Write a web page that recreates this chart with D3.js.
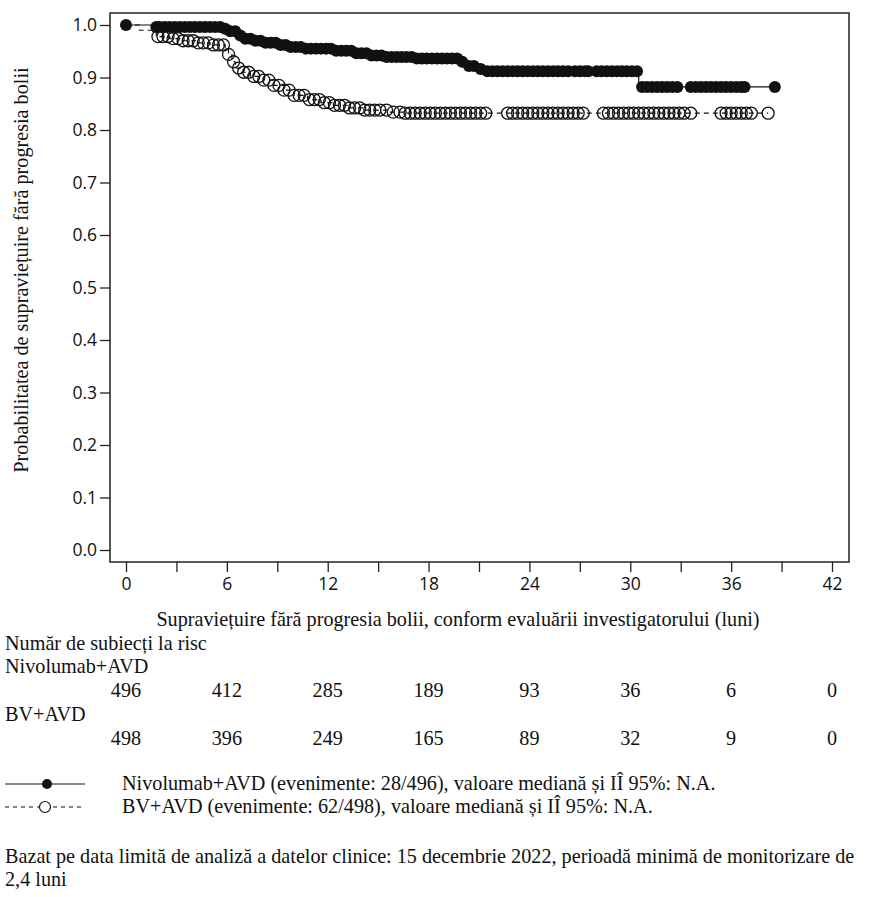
<!DOCTYPE html>
<html>
<head>
<meta charset="utf-8">
<script src="https://cdn.jsdelivr.net/npm/d3@7/dist/d3.min.js"></script>
<style>
  body { margin: 0; background: #fff; }
  svg text { fill: #111; }
  .serif { font-family: "Liberation Serif", "Times New Roman", serif; font-size: 20.2px; }
  .tick text { font-family: "Open Sans", sans-serif; font-size: 17.5px; }
</style>
</head>
<body>
<div id="chart"></div>
<script>
// Kaplan-Meier steps (months, survival)
const nivoStepTimes = [0, 1.8, 5.8, 6.2, 6.6, 7.0, 7.6, 8.2, 9.0, 9.8, 10.6, 12.4, 13.6, 14.6, 15.5, 17.2, 19.8, 20.3, 20.9, 21.3, 30.5];
const nivoStepSurv  = [1.0, 0.996, 0.993, 0.988, 0.980, 0.974, 0.970, 0.966, 0.962, 0.958, 0.955, 0.951, 0.946, 0.942, 0.939, 0.936, 0.930, 0.922, 0.916, 0.912, 0.882];

const bvStepTimes = [0, 0.8, 1.8, 2.6, 3.4, 4.2, 5.0, 5.9, 6.1, 6.3, 6.5, 6.8, 7.4, 8.2, 8.8, 9.4, 10.0, 10.8, 11.6, 12.4, 13.2, 14.2, 15.6, 16.6];
const bvStepSurv  = [1.0, 0.990, 0.978, 0.974, 0.970, 0.966, 0.962, 0.955, 0.944, 0.930, 0.918, 0.910, 0.902, 0.895, 0.885, 0.876, 0.866, 0.858, 0.852, 0.847, 0.842, 0.838, 0.834, 0.832];

// censored subjects (months)
const nivoCensor = [1.8, 2.0, 2.3, 2.6, 2.9, 3.2, 3.5, 3.8, 4.1, 4.4, 4.7, 5.0, 5.3, 5.6, 5.9, 6.2, 6.5, 6.8, 7.1, 7.4, 7.7, 8.0, 8.3, 8.6, 8.9, 9.2, 9.5, 9.8, 10.1, 10.4, 10.7, 11.0, 11.3, 11.6, 11.9, 12.2, 12.5, 12.8, 13.1, 13.4, 13.7, 14.0, 14.3, 14.6, 14.9, 15.2, 15.5, 15.8, 16.1, 16.4, 16.7, 17.0, 17.3, 17.6, 17.9, 18.2, 18.5, 18.8, 19.1, 19.4, 19.7, 20.0, 20.4, 20.7, 21.1, 21.5, 21.8, 22.1, 22.4, 22.7, 23.0, 23.3, 23.6, 23.9, 24.2, 24.5, 24.8, 25.1, 25.4, 25.7, 26.0, 26.3, 26.7, 27.0, 27.3, 27.5, 28.0, 28.3, 28.6, 28.9, 29.2, 29.5, 29.8, 30.1, 30.4, 30.7, 31.0, 31.3, 31.6, 31.9, 32.2, 32.5, 32.8, 33.6, 33.9, 34.2, 34.5, 34.8, 35.1, 35.4, 35.7, 36.0, 36.3, 36.6, 36.8, 38.6];
const bvCensor = [1.9, 2.2, 2.5, 2.8, 3.1, 3.4, 3.7, 4.0, 4.3, 4.6, 4.9, 5.2, 5.5, 5.8, 6.1, 6.4, 6.7, 7.0, 7.3, 7.6, 7.9, 8.2, 8.5, 8.8, 9.1, 9.4, 9.7, 10.0, 10.3, 10.6, 10.9, 11.2, 11.5, 11.8, 12.1, 12.4, 12.7, 13.0, 13.3, 13.6, 13.9, 14.2, 14.5, 14.8, 15.1, 15.5, 15.9, 16.3, 16.6, 16.9, 17.2, 17.5, 17.8, 18.1, 18.4, 18.7, 19.0, 19.3, 19.6, 19.9, 20.2, 20.5, 20.8, 21.1, 21.4, 22.7, 23.0, 23.3, 23.6, 23.9, 24.2, 24.5, 24.8, 25.1, 25.4, 25.7, 26.0, 26.3, 26.6, 26.9, 27.2, 28.4, 28.7, 29.0, 29.3, 29.6, 29.9, 30.2, 30.5, 30.8, 31.1, 31.4, 31.7, 32.0, 32.3, 32.6, 32.9, 33.2, 33.6, 35.4, 35.7, 36.0, 36.3, 36.6, 36.9, 37.2, 38.2];

const xTicks = [0, 3, 6, 9, 12, 15, 18, 21, 24, 27, 30, 33, 36, 39, 42];
const yTicks = [0, 0.1, 0.2, 0.3, 0.4, 0.5, 0.6, 0.7, 0.8, 0.9, 1.0];
const riskTimes = [0, 6, 12, 18, 24, 30, 36, 42];
const nivoAtRisk = [496, 412, 285, 189, 93, 36, 6, 0];
const bvAtRisk = [498, 396, 249, 165, 89, 32, 9, 0];

const width = 871, height = 897;
const svg = d3.select('#chart').append('svg')
  .attr('width', width)
  .attr('height', height);

const x = d3.scaleLinear().domain([0, 42]).range([126, 832]);
const y = d3.scaleLinear().domain([0, 1]).range([550, 25]);
const frame = { left: 110, right: 849, top: 13, bottom: 562 };

// plot frame
svg.append('rect')
  .attr('x', frame.left).attr('y', frame.top)
  .attr('width', frame.right - frame.left).attr('height', frame.bottom - frame.top)
  .attr('fill', 'none').attr('stroke', '#222').attr('stroke-width', 1.5);

const yAxis = svg.append('g')
  .attr('transform', `translate(${frame.left},0)`)
  .call(d3.axisLeft(y).tickValues(yTicks).tickSize(10).tickPadding(3).tickFormat(d3.format('.1f')));
yAxis.select('.domain').remove();

const xAxis = svg.append('g')
  .attr('transform', `translate(0,${frame.bottom})`)
  .call(d3.axisBottom(x).tickValues(xTicks).tickSize(10).tickPadding(6)
    .tickFormat(d => d % 6 === 0 ? d : ''));
xAxis.select('.domain').remove();
svg.selectAll('.tick line').attr('stroke', '#222').attr('stroke-width', 1.3);

// axis titles
svg.append('text').attr('class', 'serif')
  .attr('x', 458).attr('y', 626)
  .attr('text-anchor', 'middle')
  .text('Supraviețuire fără progresia bolii, conform evaluării investigatorului (luni)');

svg.append('text').attr('class', 'serif')
  .attr('transform', 'translate(28,270) rotate(-90)')
  .attr('text-anchor', 'middle')
  .text('Probabilitatea de supraviețuire fără progresia bolii');

function survAt(times, surv, t) {
  const i = d3.bisectRight(times, t) - 1;
  return surv[Math.max(0, i)];
}

function curvePoints(times, surv, tEnd) {
  const pts = times.map((t, i) => [t, surv[i]]);
  pts.push([tEnd, surv[surv.length - 1]]);
  return pts;
}

const line = d3.line()
  .x(d => x(d[0]))
  .y(d => y(d[1]))
  .curve(d3.curveStepAfter);

// BV+AVD (dashed, open circles)
svg.append('path')
  .datum(curvePoints(bvStepTimes, bvStepSurv, d3.max(bvCensor)))
  .attr('d', line)
  .attr('fill', 'none')
  .attr('stroke', '#111')
  .attr('stroke-width', 1.2)
  .attr('stroke-dasharray', '5,4');

svg.append('g').selectAll('circle')
  .data(bvCensor)
  .enter().append('circle')
  .attr('cx', d => x(d))
  .attr('cy', d => y(survAt(bvStepTimes, bvStepSurv, d)))
  .attr('r', 6)
  .attr('fill', 'none')
  .attr('stroke', '#111')
  .attr('stroke-width', 1.3);

// Nivolumab+AVD (solid, filled circles)
svg.append('path')
  .datum(curvePoints(nivoStepTimes, nivoStepSurv, d3.max(nivoCensor)))
  .attr('d', line)
  .attr('fill', 'none')
  .attr('stroke', '#111')
  .attr('stroke-width', 1.2);

svg.append('g').selectAll('circle')
  .data([0].concat(nivoCensor))
  .enter().append('circle')
  .attr('cx', d => x(d))
  .attr('cy', d => y(survAt(nivoStepTimes, nivoStepSurv, d)))
  .attr('r', 6)
  .attr('fill', '#111');

// number at risk
svg.append('text').attr('class', 'serif').attr('x', 5).attr('y', 650).text('Număr de subiecți la risc');
svg.append('text').attr('class', 'serif').attr('x', 5).attr('y', 673).text('Nivolumab+AVD');
svg.append('text').attr('class', 'serif').attr('x', 5).attr('y', 721).text('BV+AVD');

svg.append('g').selectAll('text')
  .data(nivoAtRisk)
  .enter().append('text')
  .attr('class', 'serif')
  .attr('x', (d, i) => x(riskTimes[i]))
  .attr('y', 697)
  .attr('text-anchor', 'middle')
  .text(d => d);

svg.append('g').selectAll('text')
  .data(bvAtRisk)
  .enter().append('text')
  .attr('class', 'serif')
  .attr('x', (d, i) => x(riskTimes[i]))
  .attr('y', 745)
  .attr('text-anchor', 'middle')
  .text(d => d);

// legend
const legend = svg.append('g');
legend.append('line').attr('x1', 5).attr('x2', 85).attr('y1', 784).attr('y2', 784)
  .attr('stroke', '#111').attr('stroke-width', 1.2);
legend.append('circle').attr('cx', 47).attr('cy', 784).attr('r', 5).attr('fill', '#111');
legend.append('text').attr('class', 'serif').attr('x', 122).attr('y', 790)
  .text('Nivolumab+AVD (evenimente: 28/496), valoare mediană și IÎ 95%: N.A.');

legend.append('line').attr('x1', 5).attr('x2', 85).attr('y1', 807).attr('y2', 807)
  .attr('stroke', '#111').attr('stroke-width', 1.2).attr('stroke-dasharray', '4,4');
legend.append('circle').attr('cx', 45).attr('cy', 807).attr('r', 5.5)
  .attr('fill', '#fff').attr('stroke', '#111').attr('stroke-width', 1.2);
legend.append('text').attr('class', 'serif').attr('x', 122).attr('y', 813)
  .text('BV+AVD (evenimente: 62/498), valoare mediană și IÎ 95%: N.A.');

// footnote
svg.append('text').attr('class', 'serif').attr('x', 5).attr('y', 863)
  .text('Bazat pe data limită de analiză a datelor clinice: 15 decembrie 2022, perioadă minimă de monitorizare de');
svg.append('text').attr('class', 'serif').attr('x', 5).attr('y', 886)
  .text('2,4 luni');
</script>
</body>
</html>
